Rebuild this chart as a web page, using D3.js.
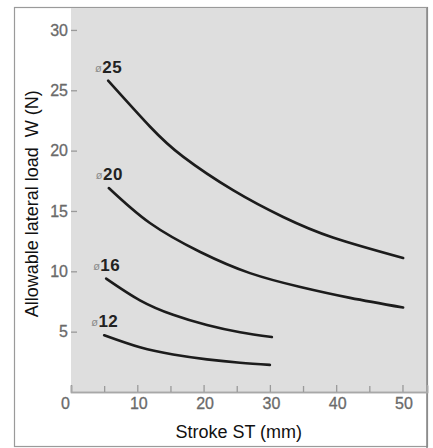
<!DOCTYPE html>
<html>
<head>
<meta charset="utf-8">
<script src="https://cdn.jsdelivr.net/npm/d3@7"></script>
<style>
  html, body { margin: 0; padding: 0; background: #fff; }
  svg { display: block; }
</style>
</head>
<body>
<div id="chart"></div>
<script>
// ---- data ----
const xTicks = [0, 10, 20, 30, 40, 50];
const xMinorTicks = [5, 15, 25, 35, 45];
const yTicks = [5, 10, 15, 20, 25, 30];
const seriesNames = ["25", "20", "16", "12"];
const strokeD25 = [5.6, 11.9, 16.9, 24.5, 32.0, 39.5, 50.1];
const loadD25   = [25.8, 22.0, 19.5, 16.7, 14.5, 12.8, 11.1];
const strokeD20 = [5.7, 11.9, 19.5, 27.0, 34.6, 42.1, 50.1];
const loadD20   = [16.9, 14.0, 11.6, 9.85, 8.7, 7.8, 7.0];
const strokeD16 = [5.3, 10.4, 15.4, 20.5, 25.5, 30.3];
const loadD16   = [9.4, 7.6, 6.4, 5.55, 4.95, 4.55];
const strokeD12 = [5.0, 10.4, 15.4, 20.5, 25.5, 30.0];
const loadD12   = [4.7, 3.7, 3.1, 2.7, 2.42, 2.25];
const xTitle = "Stroke ST (mm)";
const yTitle = "Allowable lateral load\u00a0 W (N)";

const series = [
  { name: seriesNames[0], xs: strokeD25, ys: loadD25 },
  { name: seriesNames[1], xs: strokeD20, ys: loadD20 },
  { name: seriesNames[2], xs: strokeD16, ys: loadD16 },
  { name: seriesNames[3], xs: strokeD12, ys: loadD12 }
].map(s => ({ name: s.name, pts: s.xs.map((x, i) => ({ x, y: s.ys[i] })) }));

// ---- layout ----
const W = 433, H = 448;
const margin = { top: 7, right: 6, bottom: 56, left: 71 };
const iw = W - margin.left - margin.right;
const ih = H - margin.top - margin.bottom;

const svg = d3.select("#chart").append("svg")
  .attr("width", W).attr("height", H);

// outer frame
svg.append("rect")
  .attr("x", 14.5).attr("y", 7.5)
  .attr("width", margin.left + iw - 14.5 + 0.5)
  .attr("height", H - 7.5 - 1.5)
  .attr("fill", "#fff")
  .attr("stroke", "#9a9a9a").attr("stroke-width", 1.2);

const x = d3.scaleLinear().domain([0, 53.7]).range([0, iw]);
const y = d3.scaleLinear().domain([0, 31.9]).range([ih, 0]);

const g = svg.append("g").attr("transform", `translate(${margin.left},${margin.top})`);

// plot background
g.append("rect")
  .attr("x", 0).attr("y", 0).attr("width", iw).attr("height", ih)
  .attr("fill", "#dedede");

// right & top edges of plot / frame
g.append("line").attr("x1", iw).attr("x2", iw).attr("y1", 0).attr("y2", H - margin.top)
  .attr("stroke", "#8a8a8a").attr("stroke-width", 1.6);
g.append("line").attr("x1", 0).attr("x2", iw).attr("y1", 0.5).attr("y2", 0.5)
  .attr("stroke", "#9a9a9a").attr("stroke-width", 1.2);

const tickFont = "'Liberation Sans', Arial, sans-serif";

// x axis (inside ticks)
const xAxis = g.append("g").attr("transform", `translate(0,${ih})`)
  .call(d3.axisBottom(x).tickValues(xTicks).tickSize(-7).tickPadding(7).tickFormat(d3.format("d")));
const xMinor = g.append("g").attr("transform", `translate(0,${ih})`)
  .call(d3.axisBottom(x).tickValues(xMinorTicks).tickSize(-6).tickFormat(""));
[xAxis, xMinor].forEach(a => {
  a.select(".domain").attr("stroke", "#a8a8a8").attr("stroke-width", 1.5);
  a.selectAll(".tick line").attr("stroke", "#9a9a9a").attr("stroke-width", 1.3);
});
xAxis.selectAll(".tick text")
  .attr("font-family", tickFont).attr("font-size", 16).attr("fill", "#6a6a6a")
  .attr("stroke", "#6a6a6a").attr("stroke-width", 0.3)
  .attr("dx", d => d === 0 ? -6 : 1)
  .attr("dy", "0.6em");

// y axis (inside ticks)
const yAxis = g.append("g")
  .call(d3.axisLeft(y).tickValues(yTicks).tickSize(-6).tickPadding(3).tickFormat(d3.format("d")));
yAxis.select(".domain").attr("stroke", "none");
yAxis.selectAll(".tick line").attr("stroke", "#9a9a9a").attr("stroke-width", 1.3);
yAxis.selectAll(".tick text")
  .attr("font-family", tickFont).attr("font-size", 16).attr("fill", "#6a6a6a")
  .attr("stroke", "#6a6a6a").attr("stroke-width", 0.3);

// curves
const line = d3.line().x(d => x(d.x)).y(d => y(d.y)).curve(d3.curveNatural);
g.selectAll("path.curve").data(series).join("path")
  .attr("class", "curve")
  .attr("d", d => line(d.pts))
  .attr("fill", "none")
  .attr("stroke", "#1c1c1c")
  .attr("stroke-width", 2.6)
  .attr("stroke-linecap", "round");

// series labels (ø + size) above curve start
const lab = g.selectAll("text.lab").data(series).join("text")
  .attr("class", "lab")
  .attr("x", d => x(d.pts[0].x) - 13)
  .attr("y", d => y(d.pts[0].y) - 8)
  .attr("font-family", tickFont);
lab.append("tspan").text("ø").attr("font-size", 11).attr("fill", "#8a8a8a").attr("dy", -1);
lab.append("tspan").text(d => d.name).attr("font-size", 17).attr("font-weight", "bold")
  .attr("fill", "#222").attr("dx", 0.5).attr("dy", 1).attr("letter-spacing", 0.5);

// axis titles
svg.append("text")
  .attr("x", margin.left + x(25.3)).attr("y", 438)
  .attr("text-anchor", "middle")
  .attr("font-family", tickFont).attr("font-size", 18).attr("fill", "#111")
  .text(xTitle);
svg.append("text")
  .attr("transform", `translate(38,${margin.top + y(15.6)}) rotate(-90)`)
  .attr("text-anchor", "middle")
  .attr("font-family", tickFont).attr("font-size", 18).attr("fill", "#111")
  .text(yTitle);
</script>
</body>
</html>
